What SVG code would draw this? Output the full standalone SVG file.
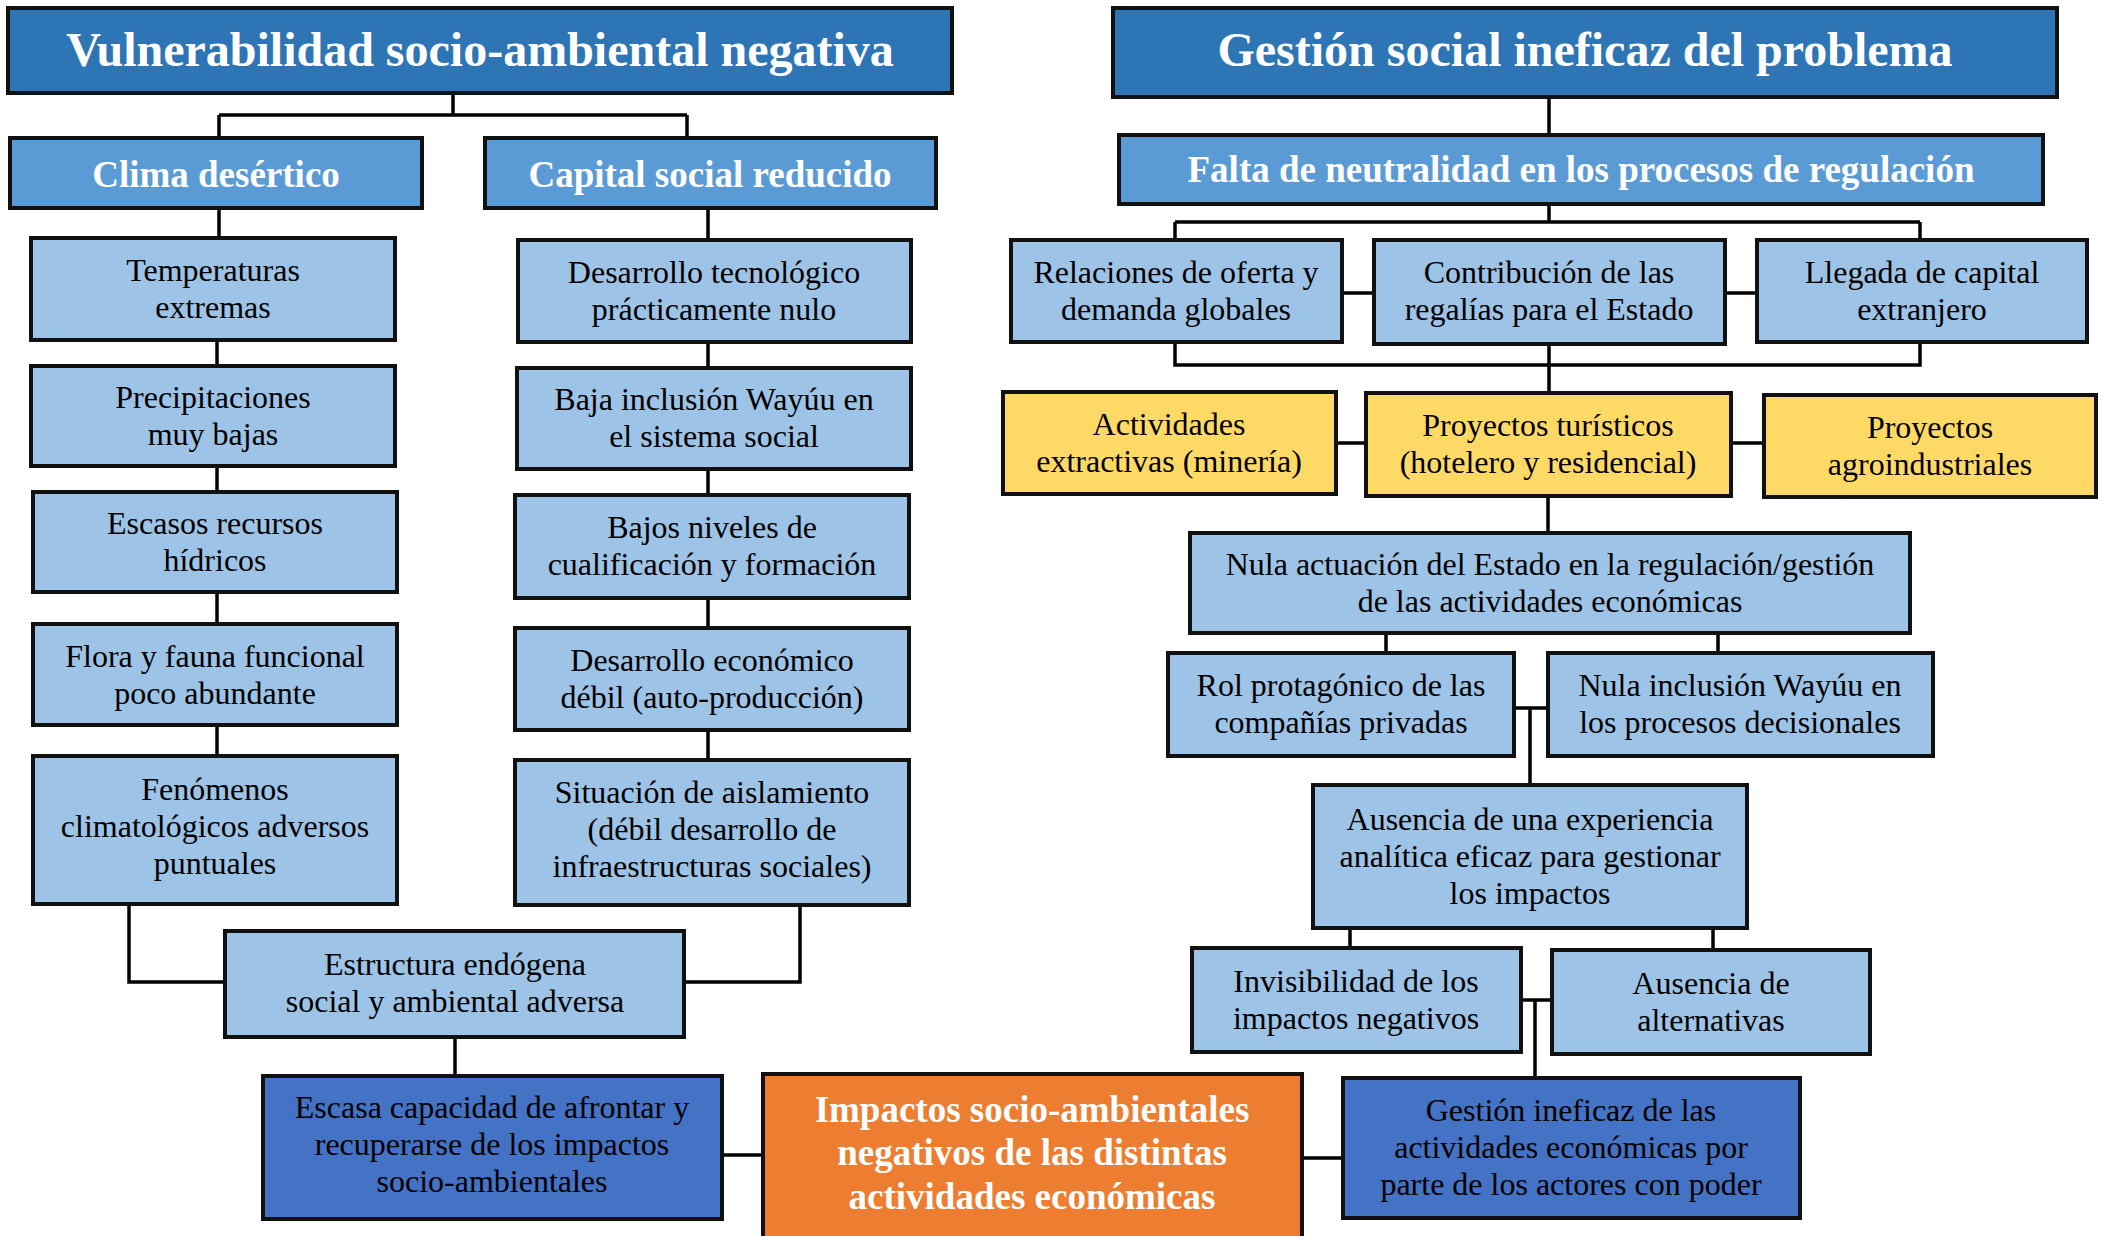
<svg xmlns="http://www.w3.org/2000/svg" width="2107" height="1236" viewBox="0 0 2107 1236">
<style>
.n rect{stroke:#111;stroke-width:4}
.t1{fill:#2E75B6}
.t2{fill:#5B9BD5}
.lb{fill:#9DC3E6}
.ye{fill:#FFD966}
.or{fill:#ED7D31}
.db{fill:#4472C4}
text{font-family:'Liberation Serif','DejaVu Serif',serif;text-anchor:middle}
.h1{font-size:48px;font-weight:bold;fill:#fff}
.h2{font-size:37px;font-weight:bold;fill:#fff}
.b{font-size:32px;fill:#000}
.conn path{fill:none;stroke:#000;stroke-width:3.5}
</style>
<g class="conn" id="connectors">
<path d="M453,93 V115 M219,115 H687 M219,115 V138 M687,115 V138"/>
<path d="M219,208 V238 M217,340 V366 M217,466 V492 M217,592 V624 M217,725 V756"/>
<path d="M708,208 V240 M708,342 V368 M708,469 V495 M708,598 V628 M708,730 V760"/>
<path d="M129,904 V982 H225 M684,982 H800 V905"/>
<path d="M455,1037 V1076"/>
<path d="M722,1155 H763"/>
<path d="M1302,1158 H1343"/>
<path d="M1549,97 V135 M1549,204 V222 M1175,222 H1920 M1175,222 V240 M1920,222 V240"/>
<path d="M1342,293 H1374 M1725,293 H1757"/>
<path d="M1175,342 V365 H1920 V342 M1549,344 V393"/>
<path d="M1336,443 H1366 M1731,443 H1764"/>
<path d="M1548,496 V533"/>
<path d="M1386,633 V653 M1718,633 V653"/>
<path d="M1514,708 H1548 M1530,708 V785"/>
<path d="M1350,928 V948 M1713,928 V950"/>
<path d="M1521,1000 H1552 M1535,1000 V1078"/>
</g>
<g class="n" id="n-vulnerabilidad"><rect class="t1" x="8" y="8" width="944" height="85"/><text class="h1" x="480" y="66">Vulnerabilidad socio-ambiental negativa</text></g>
<g class="n" id="n-clima"><rect class="t2" x="10" y="138" width="412" height="70"/><text class="h2" x="216" y="187">Clima desértico</text></g>
<g class="n" id="n-capital"><rect class="t2" x="485" y="138" width="451" height="70"/><text class="h2" x="710" y="187">Capital social reducido</text></g>
<g class="n" id="n-temp"><rect class="lb" x="31" y="238" width="364" height="102"/><text class="b" x="213" y="281">Temperaturas</text><text class="b" x="213" y="318">extremas</text></g>
<g class="n" id="n-precip"><rect class="lb" x="31" y="366" width="364" height="100"/><text class="b" x="213" y="408">Precipitaciones</text><text class="b" x="213" y="445">muy bajas</text></g>
<g class="n" id="n-escasos"><rect class="lb" x="33" y="492" width="364" height="100"/><text class="b" x="215" y="534">Escasos recursos</text><text class="b" x="215" y="571">hídricos</text></g>
<g class="n" id="n-flora"><rect class="lb" x="33" y="624" width="364" height="101"/><text class="b" x="215" y="667">Flora y fauna funcional</text><text class="b" x="215" y="704">poco abundante</text></g>
<g class="n" id="n-fenom"><rect class="lb" x="33" y="756" width="364" height="148"/><text class="b" x="215" y="800">Fenómenos</text><text class="b" x="215" y="837">climatológicos adversos</text><text class="b" x="215" y="874">puntuales</text></g>
<g class="n" id="n-destec"><rect class="lb" x="518" y="240" width="393" height="102"/><text class="b" x="714" y="283">Desarrollo tecnológico</text><text class="b" x="714" y="320">prácticamente nulo</text></g>
<g class="n" id="n-baja"><rect class="lb" x="517" y="368" width="394" height="101"/><text class="b" x="714" y="410">Baja inclusión Wayúu en</text><text class="b" x="714" y="447">el sistema social</text></g>
<g class="n" id="n-bajos"><rect class="lb" x="515" y="495" width="394" height="103"/><text class="b" x="712" y="538">Bajos niveles de</text><text class="b" x="712" y="575">cualificación y formación</text></g>
<g class="n" id="n-deseco"><rect class="lb" x="515" y="628" width="394" height="102"/><text class="b" x="712" y="671">Desarrollo económico</text><text class="b" x="712" y="708">débil (auto-producción)</text></g>
<g class="n" id="n-situ"><rect class="lb" x="515" y="760" width="394" height="145"/><text class="b" x="712" y="803">Situación de aislamiento</text><text class="b" x="712" y="840">(débil desarrollo de</text><text class="b" x="712" y="877">infraestructuras sociales)</text></g>
<g class="n" id="n-estructura"><rect class="lb" x="225" y="931" width="459" height="106"/><text class="b" x="455" y="975">Estructura endógena</text><text class="b" x="455" y="1012">social y ambiental adversa</text></g>
<g class="n" id="n-escasa"><rect class="db" x="263" y="1076" width="459" height="143"/><text class="b" x="492" y="1118">Escasa capacidad de afrontar y</text><text class="b" x="492" y="1155">recuperarse de los impactos</text><text class="b" x="492" y="1192">socio-ambientales</text></g>
<g class="n" id="n-impactos"><rect class="or" x="763" y="1074" width="539" height="170"/><text class="h2" x="1032" y="1122">Impactos socio-ambientales</text><text class="h2" x="1032" y="1165">negativos de las distintas</text><text class="h2" x="1032" y="1209">actividades económicas</text></g>
<g class="n" id="n-gestion"><rect class="t1" x="1113" y="8" width="944" height="89"/><text class="h1" x="1585" y="66">Gestión social ineficaz del problema</text></g>
<g class="n" id="n-falta"><rect class="t2" x="1119" y="135" width="924" height="69"/><text class="h2" x="1581" y="182">Falta de neutralidad en los procesos de regulación</text></g>
<g class="n" id="n-relaciones"><rect class="lb" x="1011" y="240" width="331" height="102"/><text class="b" x="1176" y="283">Relaciones de oferta y</text><text class="b" x="1176" y="320">demanda globales</text></g>
<g class="n" id="n-contrib"><rect class="lb" x="1374" y="240" width="351" height="104"/><text class="b" x="1549" y="283">Contribución de las</text><text class="b" x="1549" y="320">regalías para el Estado</text></g>
<g class="n" id="n-llegada"><rect class="lb" x="1757" y="240" width="330" height="102"/><text class="b" x="1922" y="283">Llegada de capital</text><text class="b" x="1922" y="320">extranjero</text></g>
<g class="n" id="n-activ"><rect class="ye" x="1003" y="392" width="333" height="102"/><text class="b" x="1169" y="435">Actividades</text><text class="b" x="1169" y="472">extractivas (minería)</text></g>
<g class="n" id="n-proytur"><rect class="ye" x="1366" y="393" width="365" height="103"/><text class="b" x="1548" y="436">Proyectos turísticos</text><text class="b" x="1548" y="473">(hotelero y residencial)</text></g>
<g class="n" id="n-proyagro"><rect class="ye" x="1764" y="395" width="332" height="102"/><text class="b" x="1930" y="438">Proyectos</text><text class="b" x="1930" y="475">agroindustriales</text></g>
<g class="n" id="n-nulaact"><rect class="lb" x="1190" y="533" width="720" height="100"/><text class="b" x="1550" y="575">Nula actuación del Estado en la regulación/gestión</text><text class="b" x="1550" y="612">de las actividades económicas</text></g>
<g class="n" id="n-rol"><rect class="lb" x="1168" y="653" width="346" height="103"/><text class="b" x="1341" y="696">Rol protagónico de las</text><text class="b" x="1341" y="733">compañías privadas</text></g>
<g class="n" id="n-nulaincl"><rect class="lb" x="1548" y="653" width="385" height="103"/><text class="b" x="1740" y="696">Nula inclusión Wayúu en</text><text class="b" x="1740" y="733">los procesos decisionales</text></g>
<g class="n" id="n-ausexp"><rect class="lb" x="1313" y="785" width="434" height="143"/><text class="b" x="1530" y="830">Ausencia de una experiencia</text><text class="b" x="1530" y="867">analítica eficaz para gestionar</text><text class="b" x="1530" y="904">los impactos</text></g>
<g class="n" id="n-invis"><rect class="lb" x="1192" y="948" width="329" height="104"/><text class="b" x="1356" y="992">Invisibilidad de los</text><text class="b" x="1356" y="1029">impactos negativos</text></g>
<g class="n" id="n-ausalt"><rect class="lb" x="1552" y="950" width="318" height="104"/><text class="b" x="1711" y="994">Ausencia de</text><text class="b" x="1711" y="1031">alternativas</text></g>
<g class="n" id="n-gestinef"><rect class="db" x="1343" y="1078" width="457" height="140"/><text class="b" x="1571" y="1121">Gestión ineficaz de las</text><text class="b" x="1571" y="1158">actividades económicas por</text><text class="b" x="1571" y="1195">parte de los actores con poder</text></g>
</svg>
